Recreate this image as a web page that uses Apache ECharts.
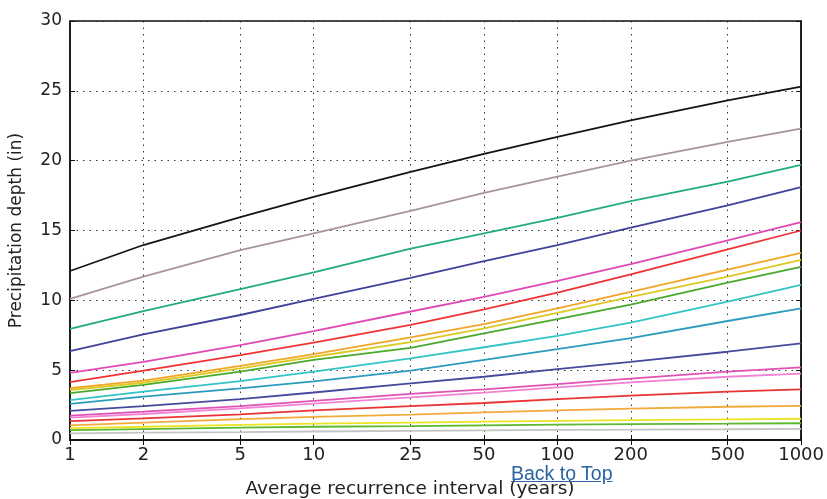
<!DOCTYPE html>
<html>
<head>
<meta charset="utf-8">
<script src="https://cdn.jsdelivr.net/npm/echarts@6/dist/echarts.min.js"></script>
<style>
  html, body { margin: 0; padding: 0; background: #fff; }
  #chart { width: 827px; height: 499px; }
  #back {
    position: absolute; left: 511px; top: 464px;
    font: 19.5px/1 "Liberation Sans", Arial, sans-serif;
    color: #2b64a2; text-decoration: underline;
  }
</style>
</head>
<body>
<div id="chart"></div>
<a id="back" href="#">Back to Top</a>
<script>
// average recurrence intervals (years)
const ari = [1, 2, 5, 10, 25, 50, 100, 200, 500, 1000];
const tickValues = [1, 2, 5, 10, 25, 50, 100, 200, 500, 1000];

// precipitation depth (in), one array per duration
const d5min = [0.47, 0.53, 0.57, 0.61, 0.65, 0.69, 0.72, 0.74, 0.77, 0.8];
const d10min = [0.7, 0.78, 0.88, 0.95, 1.0, 1.05, 1.1, 1.14, 1.17, 1.2];
const d15min = [0.85, 0.95, 1.08, 1.17, 1.25, 1.31, 1.37, 1.43, 1.48, 1.52];
const d30min = [1.05, 1.25, 1.5, 1.65, 1.82, 1.98, 2.12, 2.25, 2.38, 2.45];
const d60min = [1.35, 1.55, 1.84, 2.12, 2.43, 2.65, 2.92, 3.17, 3.46, 3.62];
const d2hr = [1.6, 1.86, 2.27, 2.6, 3.05, 3.39, 3.77, 4.13, 4.53, 4.75];
const d3hr = [1.75, 2.03, 2.43, 2.8, 3.3, 3.63, 4.0, 4.4, 4.9, 5.2];
const d6hr = [2.08, 2.43, 2.93, 3.4, 4.05, 4.53, 5.08, 5.6, 6.32, 6.92];
const d12hr = [2.58, 3.1, 3.7, 4.2, 4.96, 5.73, 6.5, 7.3, 8.52, 9.43];
const d24hr = [2.86, 3.46, 4.22, 4.9, 5.85, 6.64, 7.45, 8.4, 9.9, 11.1];
const d2day = [3.36, 3.94, 4.9, 5.73, 6.6, 7.64, 8.66, 9.7, 11.26, 12.4];
const d3day = [3.58, 4.1, 5.13, 5.96, 7.0, 8.0, 9.1, 10.25, 11.7, 12.9];
const d4day = [3.72, 4.25, 5.3, 6.15, 7.35, 8.3, 9.43, 10.6, 12.2, 13.4];
const d7day = [4.15, 4.96, 6.07, 6.97, 8.24, 9.35, 10.55, 11.85, 13.65, 15.0];
const d10day = [4.8, 5.6, 6.8, 7.8, 9.2, 10.25, 11.4, 12.6, 14.3, 15.6];
const d20day = [6.37, 7.57, 8.95, 10.1, 11.6, 12.8, 13.95, 15.2, 16.8, 18.1];
const d30day = [7.95, 9.23, 10.8, 12.0, 13.7, 14.8, 15.9, 17.1, 18.5, 19.7];
const d45day = [10.1, 11.7, 13.6, 14.8, 16.4, 17.7, 18.85, 20.0, 21.35, 22.3];
const d60day = [12.1, 13.96, 15.95, 17.4, 19.19, 20.48, 21.71, 22.88, 24.31, 25.3];

const durations = [
  { name: "5-min", data: d5min, color: "#c4c4c4" },
  { name: "10-min", data: d10min, color: "#5cb82e" },
  { name: "15-min", data: d15min, color: "#ece426" },
  { name: "30-min", data: d30min, color: "#f2aa3a" },
  { name: "60-min", data: d60min, color: "#ea3434" },
  { name: "2-hr", data: d2hr, color: "#f282d4" },
  { name: "3-hr", data: d3hr, color: "#e052b4" },
  { name: "6-hr", data: d6hr, color: "#464a9c" },
  { name: "12-hr", data: d12hr, color: "#2c9cbc" },
  { name: "24-hr", data: d24hr, color: "#34c4c4" },
  { name: "2-day", data: d2day, color: "#48aa2c" },
  { name: "3-day", data: d3day, color: "#dcca22" },
  { name: "4-day", data: d4day, color: "#f2a628" },
  { name: "7-day", data: d7day, color: "#f03434" },
  { name: "10-day", data: d10day, color: "#e248b6" },
  { name: "20-day", data: d20day, color: "#40429a" },
  { name: "30-day", data: d30day, color: "#22aa84" },
  { name: "45-day", data: d45day, color: "#a89694" },
  { name: "60-day", data: d60day, color: "#151515" },
];

const chart = echarts.init(document.getElementById("chart"));

const font = "DejaVu Sans";
const dotted = { color: "#333", width: 1, type: [1.5, 5] };

const option = {
  animation: false,
  grid: {
    left: 70, right: 21, top: 21, bottom: 59,
    show: true, borderColor: "#111", borderWidth: 1.5,
    backgroundColor: "transparent",
  },
  xAxis: [
    {
      type: "log", logBase: 10, min: 1, max: 1000,
      axisLine: { show: true, lineStyle: { color: "#111", width: 1.5 } },
      axisTick: { show: true, inside: true, length: 5, customValues: tickValues, lineStyle: { color: "#111" } },
      axisLabel: {
        customValues: tickValues, color: "#222", fontFamily: font, fontSize: 18, margin: 6,
        formatter: (v) => String(Math.round(v)),
      },
      splitLine: { show: true, lineStyle: dotted },
      minorTick: { show: false },
    },
    {
      type: "log", logBase: 10, min: 1, max: 1000, position: "top",
      axisLine: { show: true, lineStyle: { color: "#111", width: 1.5 } },
      axisTick: { show: true, inside: true, length: 5, customValues: tickValues, lineStyle: { color: "#111" } },
      axisLabel: { show: false },
      splitLine: { show: false },
    },
  ],
  yAxis: [
    {
      type: "value", min: 0, max: 30, interval: 5,
      name: "Precipitation depth (in)", nameLocation: "middle", nameGap: 45,
      nameTextStyle: { color: "#222", fontFamily: font, fontSize: 17 },
      axisLine: { show: true, lineStyle: { color: "#111", width: 1.5 } },
      axisTick: { show: true, inside: true, length: 5, lineStyle: { color: "#111" } },
      axisLabel: { color: "#222", fontFamily: font, fontSize: 17, margin: 8 },
      splitLine: { show: true, lineStyle: dotted },
    },
    {
      type: "value", min: 0, max: 30, interval: 5, position: "right",
      axisLine: { show: true, lineStyle: { color: "#111", width: 1.5 } },
      axisTick: { show: true, inside: true, length: 5, lineStyle: { color: "#111" } },
      axisLabel: { show: false },
      splitLine: { show: false },
    },
  ],
  graphic: [
    {
      type: "text", x: 410, y: 480,
      style: {
        text: "Average recurrence interval (years)",
        fill: "#222", font: "18.5px 'DejaVu Sans'",
        align: "center", verticalAlign: "top",
      },
    },
  ],
  series: durations.map((d) => ({
    name: d.name,
    type: "line",
    data: ari.map((t, i) => [t, d.data[i]]),
    showSymbol: false,
    smooth: false,
    lineStyle: { color: d.color, width: 1.8 },
    itemStyle: { color: d.color },
    silent: true,
  })),
};

chart.setOption(option);
</script>
</body>
</html>
